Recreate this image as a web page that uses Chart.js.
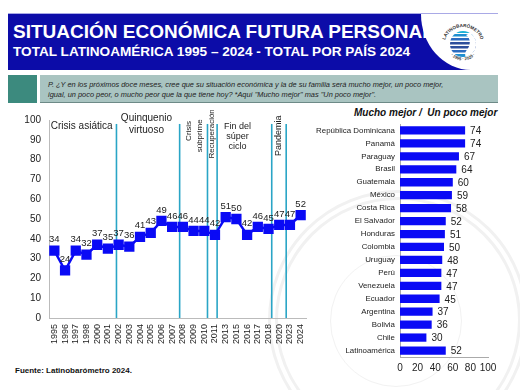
<!DOCTYPE html>
<html>
<head>
<meta charset="utf-8">
<script src="https://cdn.jsdelivr.net/npm/chart.js@4"></script>
<style>
  body { margin: 0; width: 520px; height: 390px; background: #fff; font-family: Arial, "Liberation Sans", sans-serif; position: relative; overflow: hidden; }
  .abs { position: absolute; }
  #header { left: 8px; top: 13px; width: 490px; height: 57px; background: #0c0ca8; border-top: 1px solid #a9a9e6; box-sizing: border-box; }
  #cut { left: 421px; top: 14px; width: 77px; height: 56px; background: #fff; border-bottom-left-radius: 50px 56px; }
  #t1 { left: 13px; top: 21px; color: #fff; font-weight: bold; font-size: 19px; white-space: nowrap; }
  #t2 { left: 13px; top: 44px; color: #fff; font-weight: bold; font-size: 13.6px; white-space: nowrap; }
  #sq { left: 8px; top: 75px; width: 29px; height: 28px; background: #3c8a7e; }
  #q { left: 40px; top: 75px; width: 458px; height: 27px; background: #a9c4c1; border-bottom: 1px solid #6d8a87; }
  #q p { margin: 0; padding: 5px 0 0 8px; font-size: 7.4px; font-style: italic; color: #222; line-height: 9.5px; }
  #rt { left: 354px; top: 107px; font-size: 10px; font-weight: bold; font-style: italic; color: #111; white-space: nowrap; }
  #src { left: 15px; top: 366px; font-size: 8px; font-weight: bold; color: #111; }
  #wm { left: 268px; top: 190px; width: 260px; height: 260px; border-radius: 50%; border: 10px double #f1f1f1; box-sizing: border-box; }
  #wm2 { left: 330px; top: 255px; width: 130px; height: 130px; border-radius: 50%; border: 1px solid #f2f2f2; }
</style>
</head>
<body>
<div id="wm" class="abs"></div>
<div id="wm2" class="abs"></div>
<div id="header" class="abs"></div>
<div id="t1" class="abs">SITUACIÓN ECONÓMICA FUTURA PERSONAL</div>
<div id="cut" class="abs"></div>
<div id="t2" class="abs">TOTAL LATINOAMÉRICA 1995 – 2024 - TOTAL POR PAÍS 2024</div>
<svg class="abs" style="left:436px;top:16px" width="54" height="54" viewBox="0 0 54 54">
  <defs>
    <path id="arcTop" d="M 8 30 A 19 19 0 0 1 46 30"/>
    <path id="arcBot" d="M 12 34 A 16 16 0 0 0 42 34"/>
    <clipPath id="cc"><circle cx="27" cy="28" r="13"/></clipPath>
  </defs>
  <g clip-path="url(#cc)">
    <rect x="13" y="14" width="28" height="3" fill="#1bb3d6"/>
    <rect x="13" y="18" width="28" height="2.5" fill="#1f8fd0"/>
    <rect x="13" y="22" width="28" height="2.5" fill="#2b6cc0"/>
    <rect x="13" y="26" width="28" height="2.5" fill="#2d4f9c"/>
    <rect x="13" y="30" width="28" height="2.5" fill="#2d4f9c"/>
    <rect x="13" y="34" width="28" height="2.5" fill="#2b6cc0"/>
    <rect x="13" y="38" width="28" height="3" fill="#1f8fd0"/>
    <path d="M30 19 C36 23 34 31 30 35 C28 39 30 42 31 43 L41 43 L41 14 Z" fill="#fff"/>
  </g>
  <text font-size="4.6" font-weight="bold" fill="#333"><textPath href="#arcTop" startOffset="50%" text-anchor="middle">LATINOBARÓMETRO</textPath></text>
  <text font-size="4.2" font-weight="bold" fill="#333"><textPath href="#arcBot" startOffset="50%" text-anchor="middle">· 1995 · 2020 ·</textPath></text>
</svg>
<div id="sq" class="abs"></div>
<div id="q" class="abs"><p>P. ¿Y en los próximos doce meses, cree que su situación económica y la de su familia será mucho mejor, un poco mejor,<br>igual, un poco peor, o mucho peor que la que tiene hoy? *Aquí "Mucho mejor" mas "Un poco mejor".</p></div>
<div id="rt" class="abs">Mucho mejor /&nbsp; Un poco mejor</div>
<div id="src" class="abs">Fuente: Latinobarómetro 2024.</div>

<div class="abs" style="left:14px;top:110px;width:300px;height:250px"><canvas id="lineChart"></canvas></div>
<div class="abs" style="left:300px;top:105px;width:215px;height:275px"><canvas id="barChart"></canvas></div>

<script>
const years = ['1995','1996','1997','1998','2000','2001','2002','2003','2004','2005','2006','2007','2008','2009','2010','2011','2013','2015','2016','2017','2018','2020','2023','2024'];
const totalValues = [34,24,34,32,37,35,37,36,41,43,49,46,46,44,44,42,51,50,42,46,45,47,47,52];

const countries = ['República Dominicana','Panamá','Paraguay','Brasil','Guatemala','México','Costa Rica','El Salvador','Honduras','Colombia','Uruguay','Perú','Venezuela','Ecuador','Argentina','Bolivia','Chile','Latinoamérica'];
const countryValues = [74,74,67,64,60,59,58,52,51,50,48,47,47,45,37,36,30,52];

// periodos marcados en la serie (posición en índice de categoría)
const periodLines = [5.8, 11.7, 14.3, 15.2, 20.3, 21.65];
const periodLabels = [
  { text: 'Crisis asiática', x: 2.55, y: 97, size: 10 },
  { text: 'Quinquenio', x: 8.6, y: 101, size: 10 },
  { text: 'virtuoso', x: 8.6, y: 95, size: 10 },
  { text: 'Crisis', x: 12.6, y: 94.5, size: 8, rot: true },
  { text: 'súbprime', x: 13.6, y: 92, size: 8, rot: true },
  { text: 'Recuperación', x: 14.7, y: 93, size: 8, rot: true },
  { text: 'Fin del', x: 17.1, y: 96.5, size: 9 },
  { text: 'súper', x: 17.1, y: 91.5, size: 9 },
  { text: 'ciclo', x: 17.1, y: 86.5, size: 9 },
  { text: 'Pandemia', x: 20.9, y: 92, size: 9, rot: true }
];

const blue = '#0a0af5';
const font = "Arial, 'Liberation Sans', sans-serif";

const lineDecor = {
  id: 'lineDecor',
  beforeDatasetsDraw(chart) {
    const { ctx, scales: { x, y } } = chart;
    ctx.save();
    ctx.strokeStyle = '#2aa5c6';
    ctx.lineWidth = 1.6;
    periodLines.forEach(v => {
      const px = x.getPixelForValue(v);
      ctx.beginPath();
      ctx.moveTo(px, y.getPixelForValue(98));
      ctx.lineTo(px, y.getPixelForValue(0));
      ctx.stroke();
    });
    ctx.fillStyle = '#222';
    ctx.textAlign = 'center';
    ctx.textBaseline = 'middle';
    periodLabels.forEach(l => {
      ctx.font = l.size + 'px ' + font;
      const px = x.getPixelForValue(l.x);
      const py = y.getPixelForValue(l.y);
      if (l.rot) {
        ctx.save();
        ctx.translate(px, py);
        ctx.rotate(-Math.PI / 2);
        ctx.fillText(l.text, 0, 0);
        ctx.restore();
      } else {
        ctx.fillText(l.text, px, py);
      }
    });
    ctx.restore();
  },
  afterDatasetsDraw(chart) {
    const { ctx } = chart;
    const meta = chart.getDatasetMeta(0);
    ctx.save();
    ctx.font = '9.5px ' + font;
    ctx.fillStyle = '#222';
    ctx.textAlign = 'center';
    ctx.textBaseline = 'middle';
    meta.data.forEach((pt, i) => {
      ctx.fillText(totalValues[i], pt.x, pt.y - 11);
    });
    ctx.restore();
  }
};

new Chart(document.getElementById('lineChart'), {
  type: 'line',
  data: {
    labels: years,
    datasets: [{
      data: totalValues,
      borderColor: blue,
      backgroundColor: blue,
      borderWidth: 2.5,
      pointStyle: 'rect',
      pointRadius: 5.5,
      pointHoverRadius: 5.5,
      tension: 0
    }]
  },
  options: {
    responsive: true,
    maintainAspectRatio: false,
    animation: false,
    layout: { padding: { top: 9, right: 4 } },
    plugins: { legend: { display: false }, tooltip: { enabled: false } },
    scales: {
      x: {
        offset: true,
        grid: { display: false, drawTicks: true, tickLength: 4, color: '#999' },
        border: { color: '#bbb' },
        ticks: { minRotation: 90, maxRotation: 90, autoSkip: false, font: { size: 9, family: font }, color: '#222', padding: 2 },
        afterFit(scale) { scale.height = 42; }
      },
      y: {
        min: 0, max: 100,
        grid: { display: false, drawTicks: true, tickLength: 4 },
        border: { color: '#bbb' },
        ticks: { stepSize: 10, font: { size: 10, family: font }, color: '#222', padding: 4 },
        afterFit(scale) { scale.width = 35; }
      }
    }
  },
  plugins: [lineDecor]
});

const barValues = {
  id: 'barValues',
  afterDatasetsDraw(chart) {
    const { ctx } = chart;
    const meta = chart.getDatasetMeta(0);
    ctx.save();
    ctx.font = '10px ' + font;
    ctx.fillStyle = '#222';
    ctx.textAlign = 'left';
    ctx.textBaseline = 'middle';
    meta.data.forEach((bar, i) => {
      ctx.fillText(countryValues[i], bar.x + 5, bar.y + 1);
    });
    ctx.restore();
  }
};

new Chart(document.getElementById('barChart'), {
  type: 'bar',
  data: {
    labels: countries,
    datasets: [{
      data: countryValues,
      backgroundColor: blue,
      barPercentage: 0.64,
      categoryPercentage: 1
    }]
  },
  options: {
    indexAxis: 'y',
    responsive: true,
    maintainAspectRatio: false,
    animation: false,
    layout: { padding: { top: 19, right: 27 } },
    plugins: { legend: { display: false }, tooltip: { enabled: false } },
    scales: {
      x: {
        min: 0, max: 100,
        grid: { display: false, drawTicks: true, tickLength: 3 },
        border: { color: '#aaa' },
        ticks: { stepSize: 20, minRotation: 0, maxRotation: 0, autoSkip: false, font: { size: 10, family: font }, color: '#222', padding: 2 },
        afterFit(scale) { scale.height = 23; }
      },
      y: {
        grid: { display: false, drawTicks: false },
        border: { color: '#aaa' },
        ticks: { font: { size: 7.9, family: font }, color: '#222', padding: 5, autoSkip: false },
        afterFit(scale) { scale.width = 100; }
      }
    }
  },
  plugins: [barValues]
});
</script>
</body>
</html>
